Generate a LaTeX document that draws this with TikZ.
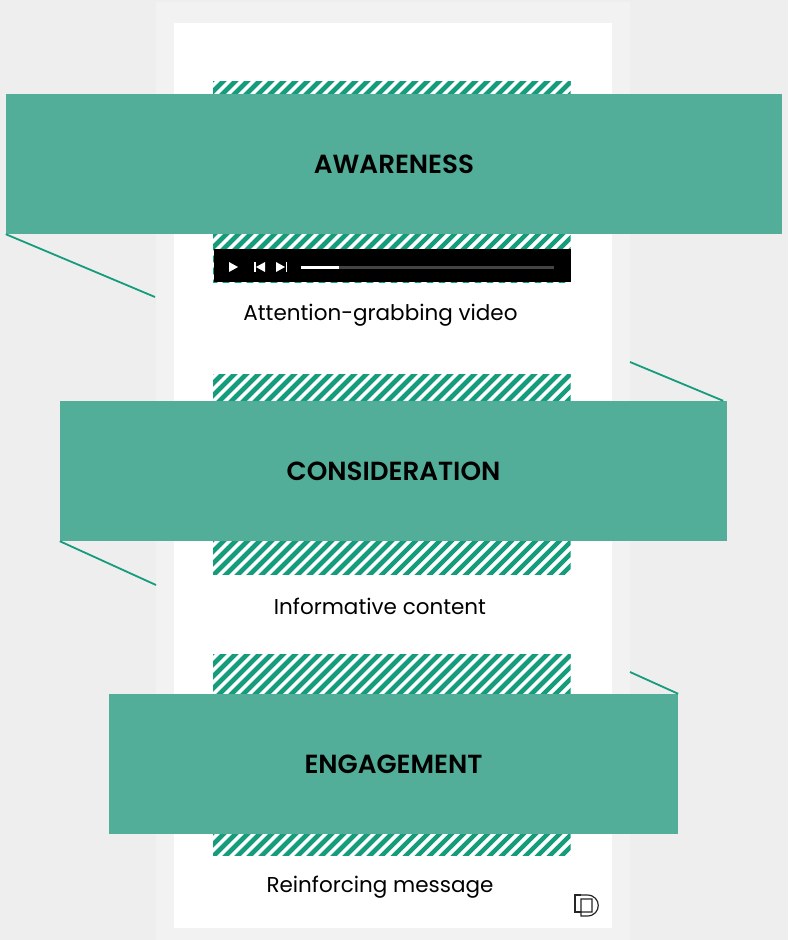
\documentclass[tikz,border=0pt]{standalone}
\usepackage{fontspec}
\setmainfont{Poppins}[BoldFont={Poppins SemiBold}]
\usetikzlibrary{positioning}

\definecolor{pagegray}{HTML}{EEEEEE}
\definecolor{panelgray}{HTML}{F2F2F2}
\definecolor{bandgreen}{HTML}{52AE98}
\definecolor{stripegreen}{HTML}{149C7C}
\definecolor{tracklight}{HTML}{444444}

\begin{document}
\begin{tikzpicture}[
  x=1pt, y=-1pt,
  band/.style={
    rectangle, fill=bandgreen,
    inner sep=0pt,
    minimum height=140pt,
    font=\fontsize{26.2}{30}\selectfont
  },
  caption/.style={font=\fontsize{21.5}{25}\selectfont, inner sep=0pt},
  leader/.style={draw=stripegreen, line width=1.8pt},
  stripes/.style={draw=stripegreen, line width=4.3pt},
  ctrl/.style={fill=white, draw=none},
]

% --- Page + panel ---
\useasboundingbox (0,0) rectangle (788,940);
\fill[pagegray] (0,0) rectangle (788,940);
\fill[panelgray] (156,2) rectangle (630,940);
\fill[white] (174,23) rectangle (612,928);

% --- Hatched placeholders ---
\foreach \ytop/\ybot in {81/282.5, 374/574.5, 654/855.5} {
  \begin{scope}
    \clip (213,\ytop) rectangle (570.6,\ybot);
    \foreach \off in {0,12,...,600}
      \draw[stripes] (\off,\ybot+10) -- ++(240,-240) (\off-240,\ybot+10) -- ++(240,-240);
  \end{scope}
}

% --- Player bar ---
\node[fill=black, inner sep=0pt, minimum width=356.6pt, minimum height=32.6pt] (PLAYER) at (392.3,265.3) {};
\fill[ctrl] (229,262) -- (238,267) -- (229,272) -- cycle;
\fill[ctrl] (254,262) rectangle (255.5,272);
\fill[ctrl] (265,262) -- (256,267) -- (265,272) -- cycle;
\fill[ctrl] (276,262) -- (285,267) -- (276,272) -- cycle;
\fill[ctrl] (285.5,262) rectangle (287,272);
\fill[tracklight] (301,265.5) rectangle (554,269);
\fill[ctrl] (301,265.5) rectangle (339,269);

% --- Bands ---
\node[band, minimum width=776pt] (AWARE) at (394,164) {\raisebox{-1pt}{\textbf{AWARENESS}}};
\node[band, minimum width=667pt] (CONSID) at (393.5,471) {\raisebox{-1pt}{\textbf{CONSIDERATION}}};
\node[band, minimum width=569pt] (ENGAGE) at (393.5,764) {\raisebox{-1pt}{\textbf{ENGAGEMENT}}};

% --- Captions ---
\node[caption] (CAP1) at (380.5,315.5) {Attention-grabbing video};
\node[caption] (CAP2) at (380,606.5) {Informative content};
\node[caption] (CAP3) at (380,887) {Reinforcing message};

% --- Leaders ---
\coordinate (A1) at (155,297);
\coordinate (C0) at (630,362);
\coordinate (C1) at (156,585);
\coordinate (E0) at (630,672);
\draw[leader] (AWARE.south west) -- (A1);
\draw[leader] (C0) -- ([xshift=-4pt]CONSID.north east);
\draw[leader] (CONSID.south west) -- (C1);
\draw[leader] (E0) -- (ENGAGE.north east);

% --- Logo ---
\draw[black!85, line width=1.2pt] (581,895) -- (575,895) -- (575,912) -- (581,912);
\draw[black!85, line width=1.2pt] (575,895) -- (587,895) .. controls (602,895) and (602,916) .. (587,916) -- (581,916) -- (581,899) -- (592,899) -- (592,912) -- (581,912);

\end{tikzpicture}
\end{document}
